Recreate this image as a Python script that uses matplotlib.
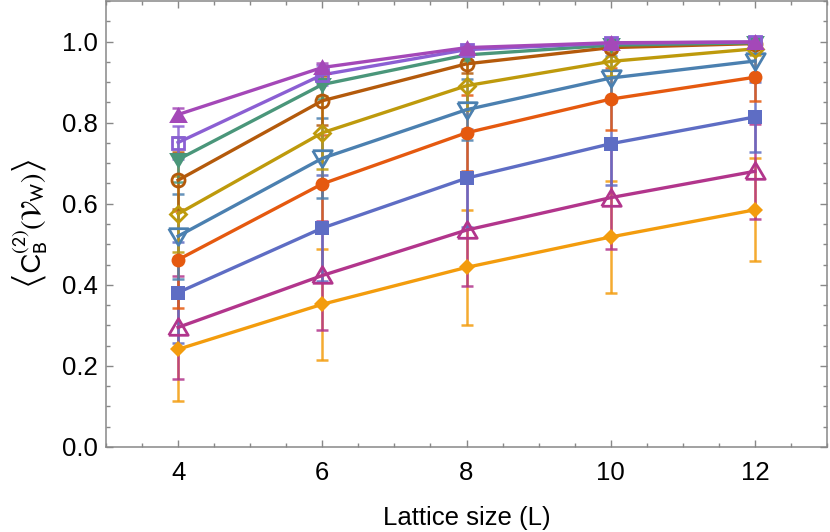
import numpy as np
import matplotlib
matplotlib.use("Agg")
import matplotlib.pyplot as plt
from matplotlib.ticker import MultipleLocator

plt.rcParams["font.family"] = ["Liberation Sans", "DejaVu Sans"]
plt.rcParams["mathtext.fontset"] = "stixsans"

# ---------------------------------------------------------
# DATA
# ---------------------------------------------------------

lattice = [4, 6, 8, 10, 12]

# series from bottom to top
means = [
    [0.241, 0.352, 0.443, 0.518, 0.585],
    [0.295, 0.423, 0.535, 0.615, 0.680],
    [0.381, 0.540, 0.663, 0.748, 0.814],
    [0.462, 0.649, 0.775, 0.858, 0.912],
    [0.520, 0.712, 0.832, 0.910, 0.952],
    [0.575, 0.775, 0.891, 0.951, 0.982],
    [0.658, 0.854, 0.945, 0.985, 0.995],
    [0.709, 0.894, 0.967, 0.991, 0.997],
    [0.751, 0.918, 0.980, 0.996, 0.999],
    [0.820, 0.936, 0.985, 0.997, 0.999],
]

errors = [
    [0.128, 0.137, 0.141, 0.137, 0.127],
    [0.127, 0.135, 0.139, 0.126, 0.117],
    [0.125, 0.130, 0.121, 0.103, 0.087],
    [0.120, 0.120, 0.094, 0.076, 0.058],
    [0.105, 0.099, 0.075, 0.055, 0.035],
    [0.094, 0.090, 0.060, 0.035, 0.015],
    [0.070, 0.060, 0.022, 0.010, 0.004],
    [0.055, 0.035, 0.012, 0.005, 0.002],
    [0.040, 0.025, 0.008, 0.003, 0.001],
    [0.016, 0.010, 0.004, 0.002, 0.001],
]

colors = [
    "#F39C0D", "#B2358C", "#5E6DC4", "#E5590F", "#4B80B0",
    "#BE9A0C", "#B45A0B", "#4A967A", "#8B5FD3", "#A448B8",
]

# ---------------------------------------------------------
# MARKERS
# ---------------------------------------------------------

tri_up = [(-1, -0.8), (1, -0.8), (0, 0.9), (-1, -0.8)]
tri_down = [(-1, 0.8), (1, 0.8), (0, -0.9), (-1, 0.8)]

# (marker, size, filled)
styles = [
    ("D", 8.6, True),
    (tri_up, 14.0, False),
    ("s", 9.6, True),
    ("o", 10.0, True),
    (tri_down, 14.0, False),
    ("D", 7.8, False),
    ("o", 9.4, False),
    (tri_down, 13.5, True),
    ("s", 9.2, False),
    (tri_up, 13.5, True),
]

# ---------------------------------------------------------
# PLOT
# ---------------------------------------------------------

fig = plt.figure(figsize=(8.3, 5.32), dpi=100)
ax = fig.add_axes([106 / 830, 85 / 532, 721 / 830, 446 / 532])

for i in range(len(means)):
    c = colors[i]
    marker, ms, filled = styles[i]

    ax.errorbar(
        lattice, means[i], yerr=errors[i],
        fmt="none", ecolor=c, elinewidth=1.8,
        capsize=4.5, capthick=1.8, alpha=0.85,
        zorder=2 + i * 0.1,
    )

    ax.plot(
        lattice, means[i],
        color=c, lw=2.4,
        marker=marker, markersize=ms,
        markerfacecolor=c if filled else "none",
        markeredgecolor=c,
        markeredgewidth=0 if filled else 2.0,
        zorder=3 + i * 0.1,
    )

ax.set_xlim(3, 13)
ax.set_ylim(0, 1.1)

ax.xaxis.set_major_locator(MultipleLocator(2))
ax.xaxis.set_minor_locator(MultipleLocator(0.5))
ax.yaxis.set_major_locator(MultipleLocator(0.2))
ax.yaxis.set_minor_locator(MultipleLocator(0.05))

ax.set_xticks([4, 6, 8, 10, 12])
ax.set_yticks([0.0, 0.2, 0.4, 0.6, 0.8, 1.0])
ax.set_yticklabels(["0.0", "0.2", "0.4", "0.6", "0.8", "1.0"])

ax.tick_params(which="both", direction="in", top=True, right=True,
               color="#888888", labelsize=18.5)
ax.tick_params(axis="x", which="major", length=5, width=1, pad=10)
ax.tick_params(axis="y", which="major", length=5, width=1, pad=6)
ax.tick_params(which="minor", length=3, width=1)

for sp in ax.spines.values():
    sp.set_color("#888888")
    sp.set_linewidth(1.1)

ax.set_xlabel("Lattice size (L)", fontsize=18.5, labelpad=15)
ax.set_ylabel(r"$\left\langle \mathrm{C}_\mathrm{B}^{(2)}(\mathcal{V}_\mathrm{W})\right\rangle$",
              fontsize=20.5, labelpad=9)

fig.savefig("out.png", dpi=100)
